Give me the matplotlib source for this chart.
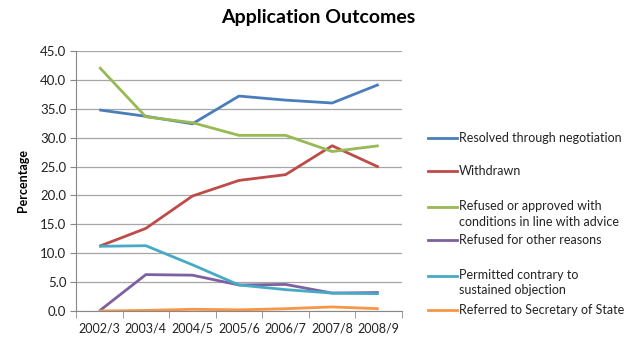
"""Application outcomes line chart"""

import matplotlib
matplotlib.use("Agg")
import matplotlib.pyplot as plt
from matplotlib.lines import Line2D

plt.rcParams['font.family'] = ['Lato', 'DejaVu Sans']

years = ["2002/3", "2003/4", "2004/5", "2005/6", "2006/7", "2007/8", "2008/9"]
resolved = [34.8, 33.7, 32.4, 37.2, 36.5, 36.0, 39.2]
withdrawn = [11.2, 14.3, 19.9, 22.6, 23.6, 28.6, 24.9]
refused_advice = [42.2, 33.6, 32.6, 30.4, 30.4, 27.6, 28.6]
refused_other = [0.0, 6.3, 6.2, 4.5, 4.6, 3.1, 3.2]
permitted = [11.2, 11.3, 8.0, 4.5, 3.7, 3.1, 3.0]
referred = [0.0, 0.1, 0.3, 0.2, 0.4, 0.7, 0.4]

labels = ["Resolved through negotiation", "Withdrawn",
          "Refused or approved with\nconditions in line with advice",
          "Refused for other reasons",
          "Permitted contrary to\nsustained objection",
          "Referred to Secretary of State"]
colors = ["#4A7EBB", "#BE4B48", "#98B954", "#7D60A0", "#46AAC5", "#F79646"]
series = [resolved, withdrawn, refused_advice, refused_other, permitted, referred]


def main() -> None:
    """Draw it"""
    fig = plt.figure(figsize=(6.37, 3.42), dpi=100)
    ax = fig.add_axes([76 / 637, 1 - 311 / 342, 326 / 637, 260 / 342])
    x = range(len(years))
    for vals, col in zip(series, colors):
        ax.plot(x, vals, color=col, linewidth=2.0, solid_capstyle="butt")

    ax.set_xlim(-0.5, len(years) - 0.5)
    ax.set_ylim(0, 45)
    ax.set_yticks([i * 5 for i in range(10)])
    ax.set_yticklabels([f"{i * 5:.1f}" for i in range(10)], fontsize=9.5, color="#222222")
    ax.set_xticks(list(x))
    ax.set_xticklabels(years, fontsize=9, color="#222222")
    ax.set_xticks([i - 0.5 for i in range(len(years) + 1)], minor=True)
    ax.tick_params(axis="x", which="major", length=0, pad=8)
    ax.tick_params(axis="x", which="minor", length=5, color="#888888")
    ax.tick_params(axis="y", length=4, color="#888888", pad=3)
    ax.grid(axis="y", color="#A6A6A6", linewidth=0.9)
    ax.set_axisbelow(True)
    for side in ("top", "right"):
        ax.spines[side].set_visible(False)
    for side in ("left", "bottom"):
        ax.spines[side].set_color("#888888")
    ax.set_ylabel("Percentage", fontsize=9, fontweight="bold", labelpad=8)

    fig.text(318 / 637, 1 - 18 / 342, "Application Outcomes", ha="center", va="center",
             fontsize=14, fontweight="bold")

    # legend drawn by hand to mimic the Excel layout
    legend_y = [138, 171, 207, 240, 276, 310]
    for ly, lab, col in zip(legend_y, labels, colors):
        yf = 1 - ly / 342
        fig.add_artist(Line2D([428 / 637, 457 / 637], [yf, yf], color=col, linewidth=2.0,
                              transform=fig.transFigure))
        if "\n" in lab:
            fig.text(459 / 637, yf + 7 / 342, lab, ha="left", va="top",
                     fontsize=9, color="#222222", linespacing=1.35)
        else:
            fig.text(459 / 637, yf, lab, ha="left", va="center",
                     fontsize=9, color="#222222")

    fig.savefig("out.png", dpi=100)


if __name__ == "__main__":
    main()
